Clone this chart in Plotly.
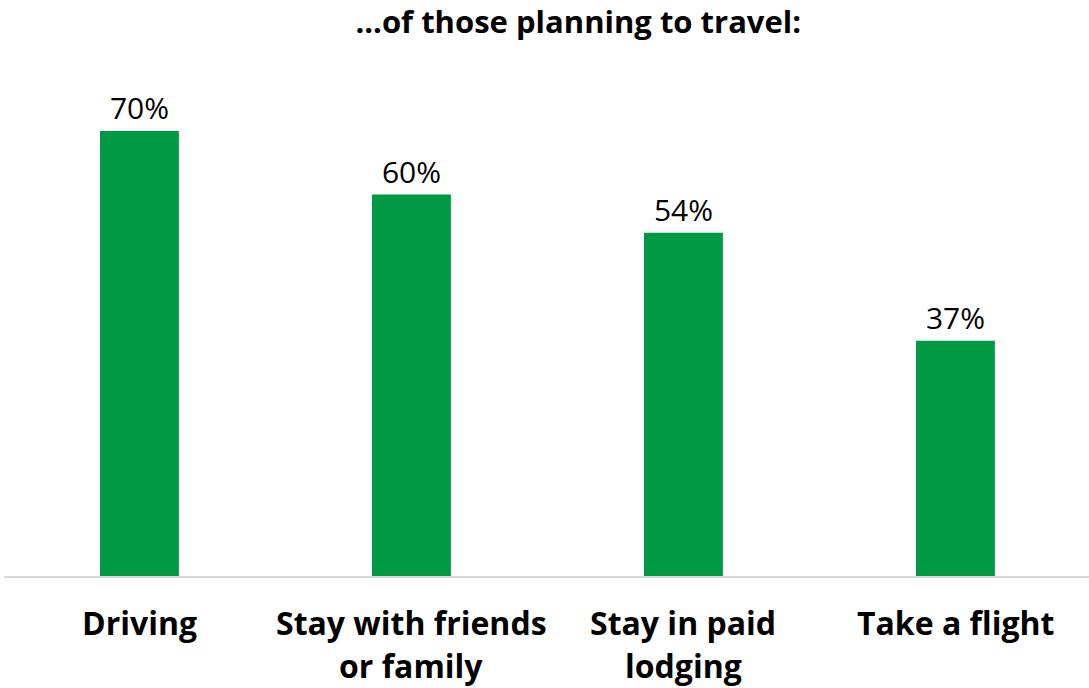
import plotly.graph_objects as go

categories = ["Driving", "Stay with friends or family", "Stay in paid lodging", "Take a flight"]
label_lines = [["Driving"], ["Stay with friends", "or family"], ["Stay in paid", "lodging"], ["Take a flight"]]
values = [70, 60, 54, 37]
value_labels = ["70%", "60%", "54%", "37%"]
title_text = "...of those planning to travel:"

GREEN = "#009A44"
FONT = "Open Sans"

fig = go.Figure(go.Bar(
    x=categories,
    y=values,
    marker=dict(color=GREEN, line=dict(width=0)),
    width=0.29,
    text=value_labels,
    textposition="outside",
    textfont=dict(family=FONT, size=30, color="#000000"),
    cliponaxis=False,
))

# category labels drawn as separate lines under the axis
annotations = []
for cat, lines in zip(categories, label_lines):
    for i, line in enumerate(lines):
        annotations.append(dict(
            x=cat, xref="x", y=0, yref="y",
            text="<b>%s</b>" % line,
            showarrow=False,
            yanchor="middle",
            yshift=-46 - 43 * i,
            font=dict(family=FONT, size=32, color="#000000"),
        ))

fig.update_layout(
    width=1089, height=688,
    margin=dict(l=4, r=0, t=60, b=112),
    paper_bgcolor="white", plot_bgcolor="white",
    title=dict(text="<b>%s</b>" % title_text, x=0.531, xanchor="center",
               y=0.968, yanchor="middle",
               font=dict(family=FONT, size=31, color="#000000")),
    xaxis=dict(showticklabels=False, showline=True, linecolor="#D9D9D9", linewidth=2,
               ticks="", showgrid=False, zeroline=False, range=[-0.498, 3.491]),
    yaxis=dict(range=[0, 81.17], visible=False, showgrid=False, zeroline=False),
    annotations=annotations,
    showlegend=False,
)

fig.write_html("out.html")
